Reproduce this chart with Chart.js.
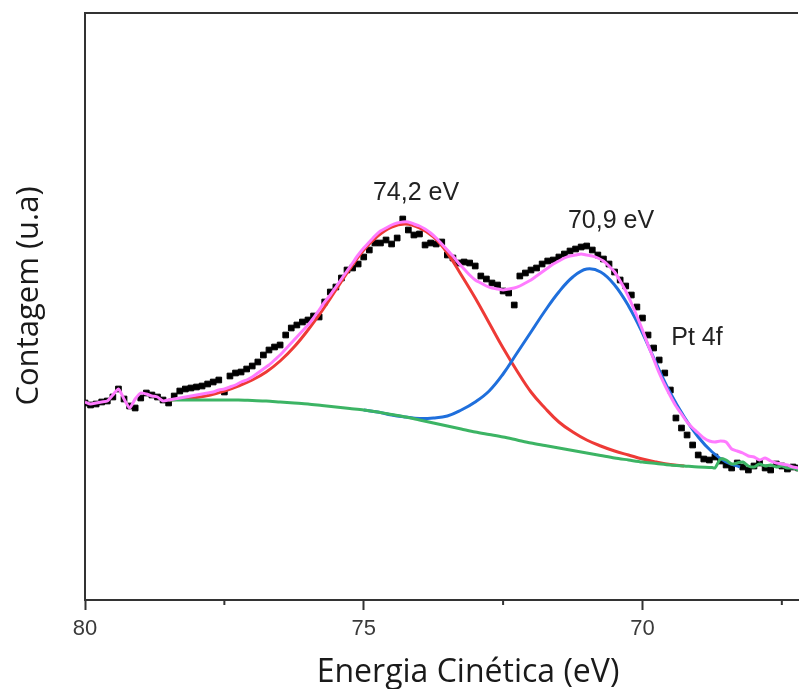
<!DOCTYPE html>
<html>
<head>
<meta charset="utf-8">
<script src="https://cdn.jsdelivr.net/npm/chart.js@4.4.0/dist/chart.umd.min.js"></script>
<style>
  html, body { margin: 0; padding: 0; background: #fff; }
  #c { display: block; }
</style>
</head>
<body>
<canvas id="c" width="803" height="689"></canvas>
<script>
// measured points (kinetic energy, eV) and counts (a.u.)
const dataEnergy = [80.0, 79.9, 79.8, 79.7, 79.6, 79.5, 79.4, 79.3, 79.2, 79.1,
  79.0, 78.9, 78.8, 78.7, 78.6, 78.5, 78.4, 78.3, 78.2, 78.1,
  78.0, 77.9, 77.8, 77.7, 77.6, 77.5, 77.4, 77.3, 77.2, 77.1,
  77.0, 76.9, 76.8, 76.7, 76.6, 76.5, 76.4, 76.3, 76.2, 76.1,
  76.0, 75.9, 75.8, 75.7, 75.6, 75.5, 75.4, 75.3, 75.2, 75.1,
  75.0, 74.9, 74.8, 74.7, 74.6, 74.5, 74.4, 74.3, 74.2, 74.1,
  74.0, 73.9, 73.8, 73.7, 73.6, 73.5, 73.4, 73.3, 73.2, 73.1,
  73.0, 72.9, 72.8, 72.7, 72.6, 72.5, 72.4, 72.3, 72.2, 72.1,
  72.0, 71.9, 71.8, 71.7, 71.6, 71.5, 71.4, 71.3, 71.2, 71.1,
  71.0, 70.9, 70.8, 70.7, 70.6, 70.5, 70.4, 70.3, 70.2, 70.1,
  70.0, 69.9, 69.8, 69.7, 69.6, 69.5, 69.4, 69.3, 69.2, 69.1,
  69.0, 68.9, 68.8, 68.7, 68.6, 68.5, 68.4, 68.3, 68.2, 68.1,
  68.0, 67.9, 67.8, 67.7, 67.6, 67.5, 67.4, 67.3, 67.2];

const dataCounts = [197, 195, 196, 198, 199, 203, 211, 201, 194, 192,
  202, 207, 205, 203, 200, 197, 204, 209, 211, 212,
  213, 214, 216, 218, 220, 208, 224, 227, 228, 231,
  234, 238, 245, 250, 253, 255, 265, 272, 275, 278,
  280, 284, 283, 298, 308, 313, 322, 330, 332, 336,
  343, 350, 357, 357, 360, 356, 362, 381, 370, 365,
  366, 355, 357, 356, 358, 345, 342, 337, 338, 337,
  334, 324, 321, 317, 315, 309, 307, 295, 324, 327,
  330, 332, 336, 339, 340, 343, 346, 349, 351, 353,
  354, 350, 345, 341, 336, 328, 320, 314, 305, 293,
  282, 265, 252, 240, 227, 210, 182, 172, 165, 155,
  145, 141, 140, 143, 139, 135, 132, 137, 133, 130,
  134, 137, 132, 130, 136, 134, 131, 133, 132];

// envelope (sum of fit), same energies as the data
const envelopeCounts = [198, 196, 197, 198, 199, 205, 211, 201, 192, 201,
  207, 206, 204, 203, 199, 200, 201, 202, 203, 204,
  205, 206, 207, 208, 210, 211, 213, 215, 218, 220,
  223, 227, 231, 235, 240, 245, 251, 257, 263, 269,
  275, 282, 290, 298, 305, 313, 321, 329, 337, 345,
  352, 358, 364, 369, 372, 375, 377, 378, 378, 376,
  374, 371, 367, 362, 356, 350, 344, 337, 331, 325,
  320, 317, 314, 312, 311, 310, 311, 312, 314, 317,
  320, 324, 328, 332, 336, 339, 342, 344, 345, 346,
  345, 344, 342, 339, 334, 328, 319, 309, 297, 284,
  270, 255, 241, 227, 215, 204, 194, 186, 178, 172,
  167, 162, 159, 158, 159, 158, 151, 149, 147, 144,
  143, 140, 142, 139, 137, 136, 135, 133, 132];

// fit components
const fitEnergy = [78.5, 78.25, 78.0, 77.75, 77.5, 77.25, 77.0, 76.75, 76.5, 76.25,
  76.0, 75.75, 75.5, 75.25, 75.0, 74.75, 74.5, 74.25, 74.0, 73.75,
  73.5, 73.25, 73.0, 72.75, 72.5, 72.25, 72.0, 71.75, 71.5, 71.25,
  71.0, 70.75, 70.5, 70.25, 70.0, 69.75, 69.5, 69.25, 69.0, 68.75,
  68.5, 68.25];

const peak742 = [200, 201, 202.5, 205, 209, 214, 220, 228, 239, 253,
  270, 289, 310, 331, 350, 364, 373, 376, 372, 363,
  347, 325, 302, 277, 252, 229, 208, 192, 178, 168,
  160, 154, 149, 145, 141, 138, 135.5, 134, null, null,
  null, null];

const peak709 = [null, null, null, null, null, null, null, null, null, null,
  null, null, null, null, 190, 188, 185, 183, 181.5, 182,
  184, 190, 198, 209, 226, 247, 268, 289, 308, 323,
  331, 328, 315, 294, 267, 236, 207, 183, 163, 148,
  138, 133];

const background = [200, 200, 200, 200, 200, 200, 199.5, 199, 198, 197,
  196, 194.5, 193, 191.5, 190, 188, 185.5, 183, 180, 177,
  174, 171, 168, 165.5, 163, 160, 157, 154.5, 152, 149.5,
  147, 144.5, 142, 140, 138, 136.5, 135, 134, 133, 132.5,
  null, null];

const tailEnergy = [68.7, 68.6, 68.5, 68.4, 68.3, 68.2, 68.1, 68.0, 67.9, 67.8,
  67.7, 67.6, 67.5, 67.4, 67.3, 67.2];
const backgroundTail = [132, 141, 140, 136, 137, 138, 134, 133, 136, 134,
  135, 133, 134, 132, 132, 130];

const majorTicks = [80, 75, 70];
const minorTicks = [77.5, 72.5, 67.5];

function pts(xs, ys) {
  const out = [];
  for (let i = 0; i < xs.length; i++) {
    if (ys[i] !== null) out.push({ x: xs[i], y: ys[i] });
  }
  return out;
}

const framePlugin = {
  id: 'frame',
  afterDraw(chart) {
    const { ctx, chartArea, scales } = chart;
    ctx.save();
    ctx.strokeStyle = '#333';
    ctx.lineWidth = 2;
    // top edge of the box
    ctx.beginPath();
    ctx.moveTo(chartArea.left - 1, chartArea.top);
    ctx.lineTo(chartArea.right, chartArea.top);
    ctx.stroke();
    // minor ticks
    for (const v of minorTicks) {
      const x = scales.x.getPixelForValue(v);
      ctx.beginPath();
      ctx.moveTo(x, chartArea.bottom);
      ctx.lineTo(x, chartArea.bottom + 5);
      ctx.stroke();
    }
    // axis titles
    ctx.fillStyle = '#1a1a1a';
    ctx.font = '32px "Open Sans"';
    ctx.textAlign = 'center';
    ctx.textBaseline = 'alphabetic';
    ctx.fillText('Energia Cinética (eV)', 468, 682);
    ctx.font = '31px "Open Sans"';
    ctx.save();
    ctx.translate(38, 296);
    ctx.rotate(-Math.PI / 2);
    ctx.fillText('Contagem (u.a)', 0, 0);
    ctx.restore();
    // peak labels
    ctx.fillStyle = '#222';
    ctx.font = '25px "Liberation Sans"';
    ctx.fillText('74,2 eV', 416, 200);
    ctx.fillText('70,9 eV', 611, 228);
    ctx.fillText('Pt 4f', 697, 345);
    ctx.restore();
  }
};

const ctx = document.getElementById('c').getContext('2d');
const chart = new Chart(ctx, {
  type: 'line',
  data: {
    datasets: [
      {
        label: 'Envelope',
        data: pts(dataEnergy, envelopeCounts),
        borderColor: '#ff7bff',
        borderWidth: 3,
        pointRadius: 0,
        tension: 0.2
      },
      {
        label: 'Background',
        data: pts(fitEnergy, background).concat(pts(tailEnergy, backgroundTail)),
        borderColor: '#3cb464',
        borderWidth: 3,
        pointRadius: 0,
        tension: 0.3
      },
      {
        label: '70,9 eV',
        data: pts(fitEnergy, peak709),
        borderColor: '#1f6fdc',
        borderWidth: 3,
        pointRadius: 0,
        tension: 0.4
      },
      {
        label: '74,2 eV',
        data: pts(fitEnergy, peak742),
        borderColor: '#ee3a36',
        borderWidth: 3,
        pointRadius: 0,
        tension: 0.4
      },
      {
        label: 'Dados',
        data: pts(dataEnergy, dataCounts),
        showLine: false,
        pointStyle: 'rect',
        pointRadius: 4,
        pointBorderWidth: 1,
        pointBackgroundColor: '#000',
        pointBorderColor: '#000'
      }
    ]
  },
  options: {
    responsive: false,
    animation: false,
    events: [],
    layout: { padding: { top: 13, left: 0, right: 0, bottom: 0 } },
    plugins: { legend: { display: false }, tooltip: { enabled: false } },
    scales: {
      x: {
        type: 'linear',
        reverse: true,
        min: 67.21,
        max: 80,
        afterFit: s => { s.height = 89; },
        border: { display: true, color: '#333', width: 2 },
        grid: {
          display: true,
          drawOnChartArea: false,
          drawTicks: true,
          tickLength: 10,
          tickWidth: 2,
          tickColor: c => (c.tick && majorTicks.includes(c.tick.value)) ? '#333' : 'rgba(0,0,0,0)'
        },
        ticks: {
          stepSize: 2.5,
          includeBounds: false,
          autoSkip: false,
          maxRotation: 0,
          padding: 6,
          color: '#3a3a3a',
          font: { family: 'Liberation Sans', size: 22 },
          callback: v => majorTicks.includes(v) ? String(v) : ''
        }
      },
      y: {
        min: 0,
        max: 587,
        afterFit: s => { s.width = 85; },
        border: { display: true, color: '#333', width: 2 },
        grid: { display: false },
        ticks: { display: false }
      }
    }
  },
  plugins: [framePlugin]
});
</script>
</body>
</html>
